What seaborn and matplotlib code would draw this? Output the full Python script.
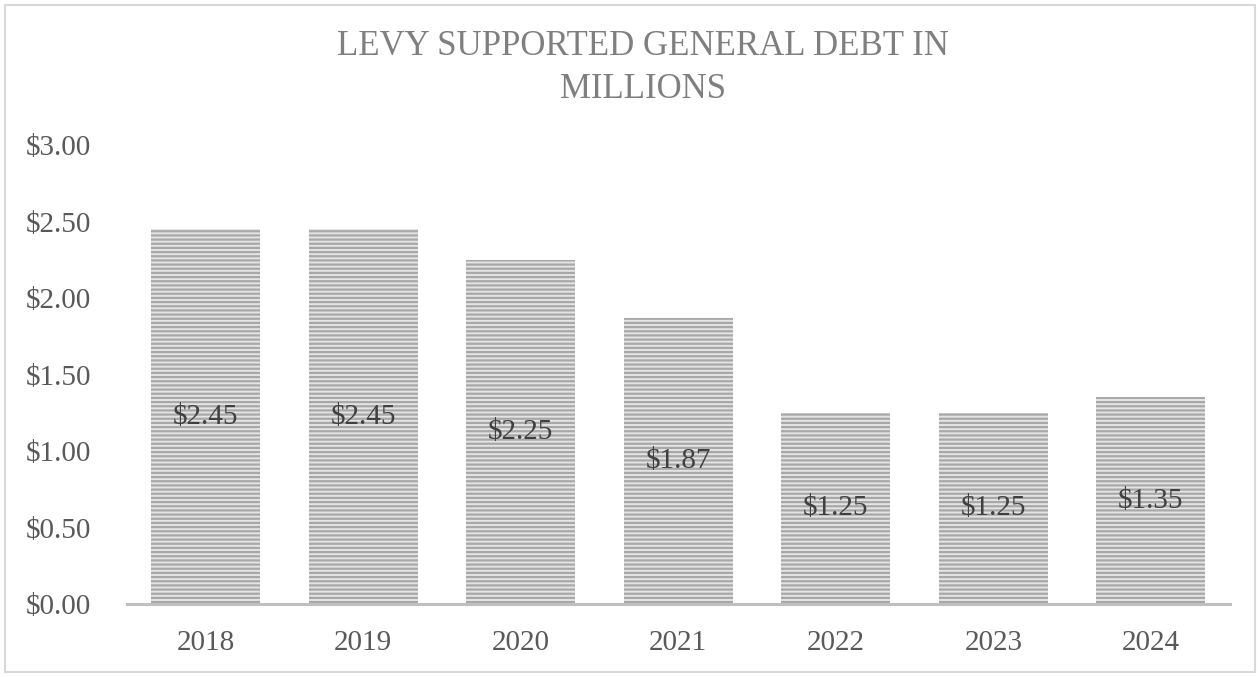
import matplotlib
matplotlib.use("Agg")
import matplotlib.pyplot as plt
from matplotlib.patches import Rectangle
import seaborn as sns
import pandas as pd

years = ["2018", "2019", "2020", "2021", "2022", "2023", "2024"]
debt = [2.45, 2.45, 2.25, 1.87, 1.25, 1.25, 1.35]
y_ticks = [0.0, 0.5, 1.0, 1.5, 2.0, 2.5, 3.0]

sns.set_style("white")
plt.rcParams["font.family"] = ["Liberation Serif", "DejaVu Serif"]
plt.rcParams["hatch.linewidth"] = 1.6

df = pd.DataFrame({"year": years, "debt": debt})

fig = plt.figure(figsize=(12.6, 6.77), dpi=100)
ax = fig.add_axes([0.1008, 0.1078, 0.8750, 0.6780])

sns.barplot(data=df, x="year", y="debt", ax=ax, width=0.69,
            color="#e2e2e2", saturation=1)
for p in ax.patches:
    p.set_facecolor("#e4e4e4")
    p.set_edgecolor("#a8a8a8")
    p.set_hatch("----")
    p.set_linewidth(0)

ax.bar_label(ax.containers[0], labels=[f"${v:.2f}" for v in debt],
             label_type="center", fontsize=21, color="#404040")

ax.set_xlim(-0.5, 6.5)
ax.set_ylim(0, 3.0)
ax.set_yticks(y_ticks)
ax.set_yticklabels([f"${v:.2f}" for v in y_ticks])
ax.set_xlabel("")
ax.set_ylabel("")
ax.tick_params(axis="y", length=0, pad=26, labelsize=21, labelcolor="#595959")
ax.tick_params(axis="x", length=0, pad=19, labelsize=21, labelcolor="#595959")

for s in ["top", "right", "left"]:
    ax.spines[s].set_visible(False)
ax.spines["bottom"].set_color("#bfbfbf")
ax.spines["bottom"].set_linewidth(2.2)

fig.text(0.510, 0.900, "LEVY SUPPORTED GENERAL DEBT IN\nMILLIONS",
         ha="center", va="center", fontsize=25, color="#7f7f7f",
         linespacing=1.4)

fig.patches.append(Rectangle((5 / 1260, 5 / 677), 1250 / 1260, 667 / 677,
                             transform=fig.transFigure, fill=False,
                             edgecolor="#d9d9d9", linewidth=1.5))

fig.savefig("out.png", dpi=100)
